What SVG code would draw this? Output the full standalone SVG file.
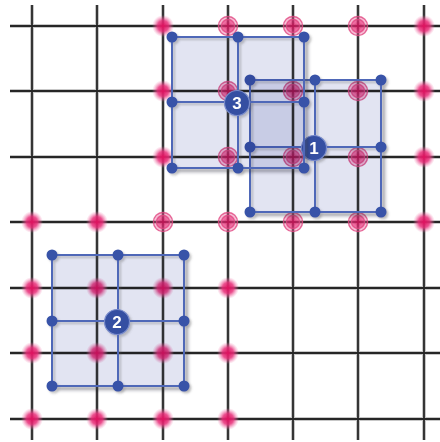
<svg xmlns="http://www.w3.org/2000/svg" xmlns:xlink="http://www.w3.org/1999/xlink" width="440" height="442" viewBox="0 0 440 442">
<style>
.halo{stroke:#9a9a9a;stroke-width:4;opacity:0.55}
.ln{stroke:#262626;stroke-width:1.8}
.fill{fill:#e2e4f2;mix-blend-mode:multiply}
.shd{fill:none;stroke:#8a8a96;stroke-width:4;opacity:0.45;mix-blend-mode:multiply;filter:url(#bl)}
.frame{fill:none;stroke:#5068b8;stroke-width:2}
.dot{fill:#3752a8}
.badge{fill:#3550a2;stroke:#7a8ccc;stroke-width:1.2}
.num{fill:#ffffff;font-family:"Liberation Sans",Arial,sans-serif;font-weight:bold;font-size:17px;text-anchor:middle}
.ring{fill:none;stroke:#e0457f;stroke-width:1.4;opacity:0.8}
</style>
<defs>
<radialGradient id="pk">
<stop offset="0" stop-color="#e0105e"/>
<stop offset="0.5" stop-color="#e8307a" stop-opacity="0.85"/>
<stop offset="1" stop-color="#f080b0" stop-opacity="0"/>
</radialGradient>
<filter id="bl" x="-20%" y="-20%" width="140%" height="140%">
<feGaussianBlur stdDeviation="1.8"/>
</filter>
<filter id="sh" x="-20%" y="-20%" width="140%" height="140%">
<feDropShadow dx="2" dy="2" stdDeviation="1.2" flood-color="#606060" flood-opacity="0.35"/>
</filter>
<g id="pd"><circle r="11" fill="url(#pk)"/></g>
<g id="pr"><circle r="11" fill="url(#pk)" opacity="0.8"/><circle r="9.5" class="ring"/><circle r="6.5" class="ring"/></g>
</defs>
<g id="grid">
<g class="halo">
<line x1="32" y1="5" x2="32" y2="440"/><line x1="97" y1="5" x2="97" y2="440"/><line x1="163" y1="5" x2="163" y2="440"/><line x1="228" y1="5" x2="228" y2="440"/><line x1="293" y1="5" x2="293" y2="440"/><line x1="358" y1="5" x2="358" y2="440"/><line x1="424" y1="5" x2="424" y2="440"/>
<line x1="10" y1="26" x2="440" y2="26"/><line x1="10" y1="91" x2="440" y2="91"/><line x1="10" y1="157" x2="440" y2="157"/><line x1="10" y1="222" x2="440" y2="222"/><line x1="10" y1="288" x2="440" y2="288"/><line x1="10" y1="353" x2="440" y2="353"/><line x1="10" y1="419" x2="440" y2="419"/>
</g>
<g class="ln">
<line x1="32" y1="5" x2="32" y2="440"/><line x1="97" y1="5" x2="97" y2="440"/><line x1="163" y1="5" x2="163" y2="440"/><line x1="228" y1="5" x2="228" y2="440"/><line x1="293" y1="5" x2="293" y2="440"/><line x1="358" y1="5" x2="358" y2="440"/><line x1="424" y1="5" x2="424" y2="440"/>
<line x1="10" y1="26" x2="440" y2="26"/><line x1="10" y1="91" x2="440" y2="91"/><line x1="10" y1="157" x2="440" y2="157"/><line x1="10" y1="222" x2="440" y2="222"/><line x1="10" y1="288" x2="440" y2="288"/><line x1="10" y1="353" x2="440" y2="353"/><line x1="10" y1="419" x2="440" y2="419"/>
</g>
</g>
<g id="pins">
<use xlink:href="#pd" x="163" y="26"/><use xlink:href="#pr" x="228" y="26"/><use xlink:href="#pr" x="293" y="26"/><use xlink:href="#pr" x="358" y="26"/><use xlink:href="#pd" x="424" y="26"/>
<use xlink:href="#pd" x="163" y="91"/><use xlink:href="#pr" x="228" y="91"/><use xlink:href="#pr" x="293" y="91"/><use xlink:href="#pr" x="358" y="91"/><use xlink:href="#pd" x="424" y="91"/>
<use xlink:href="#pd" x="163" y="157"/><use xlink:href="#pr" x="228" y="157"/><use xlink:href="#pr" x="293" y="157"/><use xlink:href="#pr" x="358" y="157"/><use xlink:href="#pd" x="424" y="157"/>
<use xlink:href="#pd" x="32" y="222"/><use xlink:href="#pd" x="97" y="222"/><use xlink:href="#pr" x="163" y="222"/><use xlink:href="#pr" x="228" y="222"/><use xlink:href="#pr" x="293" y="222"/><use xlink:href="#pr" x="358" y="222"/><use xlink:href="#pd" x="424" y="222"/>
<use xlink:href="#pd" x="32" y="288"/><use xlink:href="#pd" x="97" y="288"/><use xlink:href="#pd" x="163" y="288"/><use xlink:href="#pd" x="228" y="288"/>
<use xlink:href="#pd" x="32" y="353"/><use xlink:href="#pd" x="97" y="353"/><use xlink:href="#pd" x="163" y="353"/><use xlink:href="#pd" x="228" y="353"/>
<use xlink:href="#pd" x="32" y="419"/><use xlink:href="#pd" x="97" y="419"/><use xlink:href="#pd" x="163" y="419"/><use xlink:href="#pd" x="228" y="419"/>
</g>
<g id="square2">
<path class="shd" d="M187 260V389H57"/>
<rect class="fill" x="52" y="255" width="132" height="131"/>
<g filter="url(#sh)">
<path class="frame" d="M52 255H184V386H52ZM118 255V386M52 321H184"/>
<circle class="dot" cx="52" cy="255" r="5.5"/><circle class="dot" cx="118" cy="255" r="5.5"/><circle class="dot" cx="184" cy="255" r="5.5"/>
<circle class="dot" cx="52" cy="321" r="5.5"/><circle class="dot" cx="184" cy="321" r="5.5"/>
<circle class="dot" cx="52" cy="386" r="5.5"/><circle class="dot" cx="118" cy="386" r="5.5"/><circle class="dot" cx="184" cy="386" r="5.5"/>
<circle class="badge" cx="117" cy="322" r="12.5"/><text class="num" x="117" y="328">2</text>
</g>
</g>
<g id="square1">
<path class="shd" d="M384 85V215H255"/>
<rect class="fill" x="250" y="80" width="131" height="132"/>
<g filter="url(#sh)">
<path class="frame" d="M250 80H381V212H250ZM315 80V212M250 147H381"/>
<circle class="dot" cx="250" cy="80" r="5.5"/><circle class="dot" cx="315" cy="80" r="5.5"/><circle class="dot" cx="381" cy="80" r="5.5"/>
<circle class="dot" cx="250" cy="147" r="5.5"/><circle class="dot" cx="381" cy="147" r="5.5"/>
<circle class="dot" cx="250" cy="212" r="5.5"/><circle class="dot" cx="315" cy="212" r="5.5"/><circle class="dot" cx="381" cy="212" r="5.5"/>
<circle class="badge" cx="314" cy="148" r="12.5"/><text class="num" x="314" y="154">1</text>
</g>
</g>
<g id="square3">
<path class="shd" d="M307 42V171H177"/>
<rect class="fill" x="172" y="37" width="132" height="131"/>
<g filter="url(#sh)">
<path class="frame" d="M172 37H304V168H172ZM238 37V168M172 102H304"/>
<circle class="dot" cx="172" cy="37" r="5.5"/><circle class="dot" cx="238" cy="37" r="5.5"/><circle class="dot" cx="304" cy="37" r="5.5"/>
<circle class="dot" cx="172" cy="102" r="5.5"/><circle class="dot" cx="304" cy="102" r="5.5"/>
<circle class="dot" cx="172" cy="168" r="5.5"/><circle class="dot" cx="238" cy="168" r="5.5"/><circle class="dot" cx="304" cy="168" r="5.5"/>
<circle class="badge" cx="237" cy="103" r="12.5"/><text class="num" x="237" y="109">3</text>
</g>
</g>
</svg>
